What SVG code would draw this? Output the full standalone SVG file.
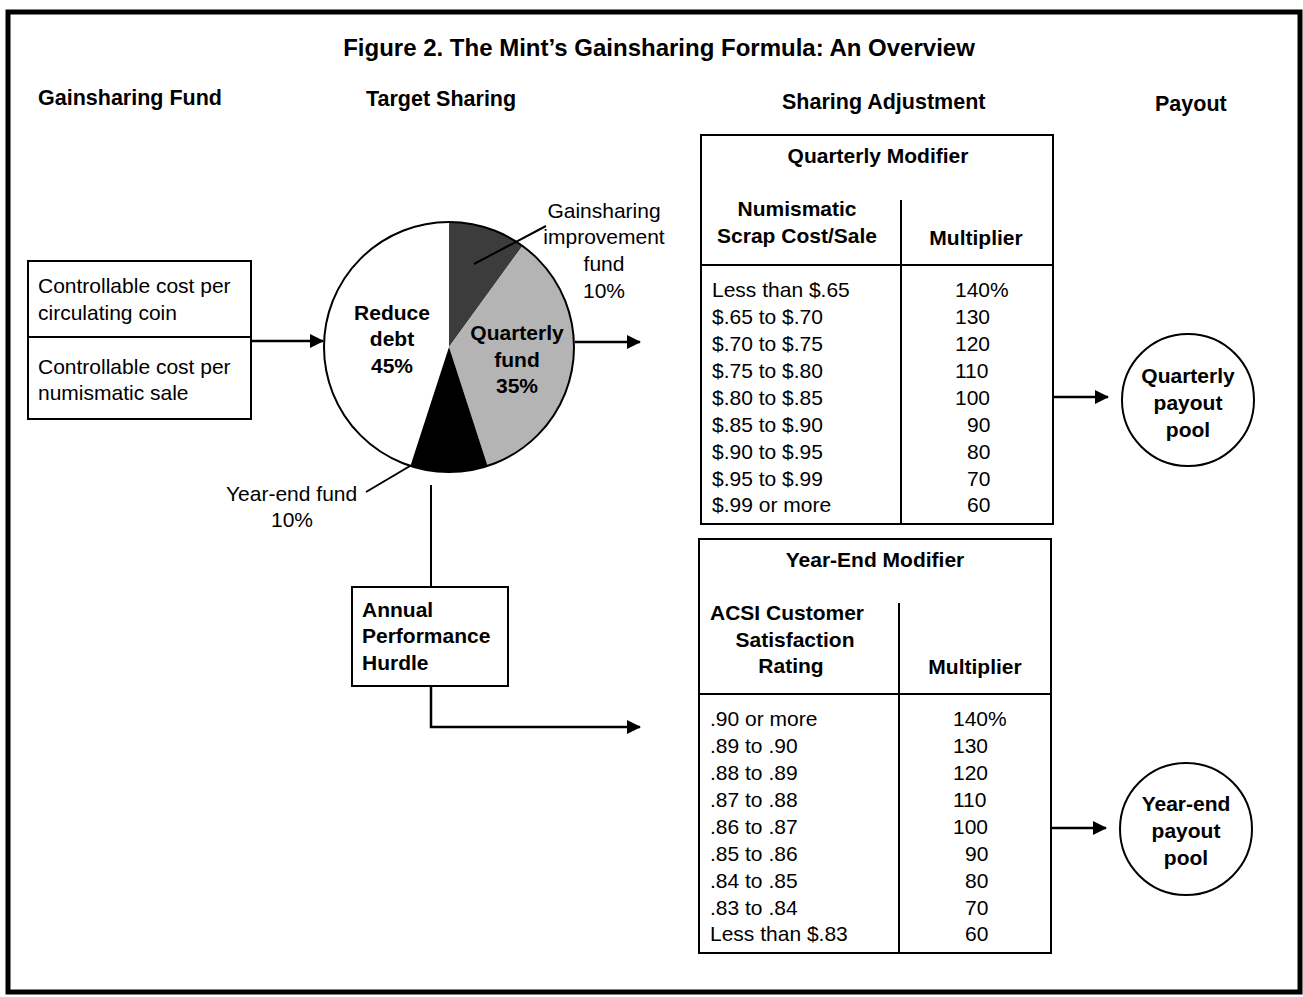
<svg xmlns="http://www.w3.org/2000/svg" width="1303" height="997" viewBox="0 0 1303 997">
<defs>
<style>
text{font-family:"Liberation Sans",Arial,sans-serif;fill:#000}
.t{font-size:24px;font-weight:bold}
.h{font-size:21.5px;font-weight:bold}
.b{font-size:21px}
.bb{font-size:21px;font-weight:bold}
.c{text-anchor:middle}
.box{fill:#fff;stroke:#000;stroke-width:2}
.ln{fill:none;stroke:#000;stroke-width:2}
.ar{fill:none;stroke:#000;stroke-width:2.5}
</style>
<marker id="ah" markerUnits="userSpaceOnUse" markerWidth="14" markerHeight="14" refX="13" refY="7" orient="auto">
<path d="M0,0 L14,7 L0,14 z" fill="#000"/>
</marker>
</defs>
<rect x="0" y="0" width="1303" height="997" fill="#fff"/>
<rect x="8" y="12" width="1292" height="980" fill="none" stroke="#000" stroke-width="5"/>

<g id="title">
<text class="t c" x="659" y="56">Figure 2. The Mint’s Gainsharing Formula: An Overview</text>
</g>
<g id="headers">
<text class="h" x="38" y="105">Gainsharing Fund</text>
<text class="h" x="366" y="106">Target Sharing</text>
<text class="h" x="782" y="109">Sharing Adjustment</text>
<text class="h" x="1155" y="111">Payout</text>
</g>

<g id="connectors">
<line class="ar" x1="251" y1="341" x2="323" y2="341" marker-end="url(#ah)"/>
<line class="ar" x1="575" y1="342" x2="640" y2="342" marker-end="url(#ah)"/>
<line class="ln" x1="431" y1="485" x2="431" y2="588"/>
<polyline class="ar" points="431,686 431,727 640,727" marker-end="url(#ah)"/>
<line class="ar" x1="1053" y1="397" x2="1108" y2="397" marker-end="url(#ah)"/>
<line class="ar" x1="1051" y1="828" x2="1106" y2="828" marker-end="url(#ah)"/>
</g>

<g id="fund-box">
<rect class="box" x="28" y="261" width="223" height="158"/>
<line class="ln" x1="28" y1="337" x2="251" y2="337"/>
<text class="b" x="38" y="293">Controllable cost per</text>
<text class="b" x="38" y="320">circulating coin</text>
<text class="b" x="38" y="374">Controllable cost per</text>
<text class="b" x="38" y="400">numismatic sale</text>
</g>

<g id="pie">
<path d="M449,347 L410.4,465.9 A125,125 0 0 1 449,222 Z" fill="#fff"/>
<path d="M449,347 L449,222 A125,125 0 0 1 522.5,245.9 Z" fill="#3c3c3c"/>
<path d="M449,347 L522.5,245.9 A125,125 0 0 1 487.6,465.9 Z" fill="#b4b4b4"/>
<path d="M449,347 L487.6,465.9 A125,125 0 0 1 410.4,465.9 Z" fill="#000"/>
<circle cx="449" cy="347" r="125" fill="none" stroke="#000" stroke-width="2"/>
<text class="bb c" x="392" y="320">Reduce</text>
<text class="bb c" x="392" y="346">debt</text>
<text class="bb c" x="392" y="373">45%</text>
<text class="bb c" x="517" y="340">Quarterly</text>
<text class="bb c" x="517" y="367">fund</text>
<text class="bb c" x="517" y="393">35%</text>
</g>

<g id="label-improvement">
<line class="ln" x1="546" y1="226" x2="474" y2="264"/>
<text class="b c" x="604" y="218">Gainsharing</text>
<text class="b c" x="604" y="244">improvement</text>
<text class="b c" x="604" y="271">fund</text>
<text class="b c" x="604" y="298">10%</text>
</g>

<g id="label-yearend">
<line class="ln" x1="366" y1="492" x2="410" y2="466"/>
<text class="b" x="226" y="501">Year-end fund</text>
<text class="b c" x="292" y="527">10%</text>
</g>

<g id="hurdle">
<rect class="box" x="352" y="587" width="156" height="99"/>
<text class="bb" x="362" y="617">Annual</text>
<text class="bb" x="362" y="643">Performance</text>
<text class="bb" x="362" y="670">Hurdle</text>
</g>

<g id="quarterly-modifier">
<rect class="box" x="701" y="135" width="352" height="389"/>
<line class="ln" x1="901" y1="200" x2="901" y2="524"/>
<line class="ln" x1="701" y1="265" x2="1053" y2="265"/>
<text class="bb c" x="878" y="163">Quarterly Modifier</text>
<text class="bb c" x="797" y="216">Numismatic</text>
<text class="bb c" x="797" y="243">Scrap Cost/Sale</text>
<text class="bb c" x="976" y="245">Multiplier</text>
<text class="b" x="712" y="297">Less than $.65</text>
<text class="b" x="712" y="324">$.65 to $.70</text>
<text class="b" x="712" y="351">$.70 to $.75</text>
<text class="b" x="712" y="378">$.75 to $.80</text>
<text class="b" x="712" y="405">$.80 to $.85</text>
<text class="b" x="712" y="432">$.85 to $.90</text>
<text class="b" x="712" y="459">$.90 to $.95</text>
<text class="b" x="712" y="486">$.95 to $.99</text>
<text class="b" x="712" y="512">$.99 or more</text>
<text class="b" x="955" y="297">140%</text>
<text class="b" x="955" y="324">130</text>
<text class="b" x="955" y="351">120</text>
<text class="b" x="955" y="378">110</text>
<text class="b" x="955" y="405">100</text>
<text class="b" x="967" y="432">90</text>
<text class="b" x="967" y="459">80</text>
<text class="b" x="967" y="486">70</text>
<text class="b" x="967" y="512">60</text>
</g>

<g id="yearend-modifier">
<rect class="box" x="699" y="539" width="352" height="414"/>
<line class="ln" x1="899" y1="603" x2="899" y2="953"/>
<line class="ln" x1="699" y1="694" x2="1051" y2="694"/>
<text class="bb c" x="875" y="567">Year-End Modifier</text>
<text class="bb" x="710" y="620">ACSI Customer</text>
<text class="bb c" x="795" y="647">Satisfaction</text>
<text class="bb c" x="791" y="673">Rating</text>
<text class="bb c" x="975" y="674">Multiplier</text>
<text class="b" x="710" y="726">.90 or more</text>
<text class="b" x="710" y="753">.89 to .90</text>
<text class="b" x="710" y="780">.88 to .89</text>
<text class="b" x="710" y="807">.87 to .88</text>
<text class="b" x="710" y="834">.86 to .87</text>
<text class="b" x="710" y="861">.85 to .86</text>
<text class="b" x="710" y="888">.84 to .85</text>
<text class="b" x="710" y="915">.83 to .84</text>
<text class="b" x="710" y="941">Less than $.83</text>
<text class="b" x="953" y="726">140%</text>
<text class="b" x="953" y="753">130</text>
<text class="b" x="953" y="780">120</text>
<text class="b" x="953" y="807">110</text>
<text class="b" x="953" y="834">100</text>
<text class="b" x="965" y="861">90</text>
<text class="b" x="965" y="888">80</text>
<text class="b" x="965" y="915">70</text>
<text class="b" x="965" y="941">60</text>
</g>

<g id="quarterly-pool">
<circle cx="1188" cy="400" r="66" fill="#fff" stroke="#000" stroke-width="2"/>
<text class="bb c" x="1188" y="383">Quarterly</text>
<text class="bb c" x="1188" y="410">payout</text>
<text class="bb c" x="1188" y="437">pool</text>
</g>

<g id="yearend-pool">
<circle cx="1186" cy="829" r="66" fill="#fff" stroke="#000" stroke-width="2"/>
<text class="bb c" x="1186" y="811">Year-end</text>
<text class="bb c" x="1186" y="838">payout</text>
<text class="bb c" x="1186" y="865">pool</text>
</g>
</svg>
